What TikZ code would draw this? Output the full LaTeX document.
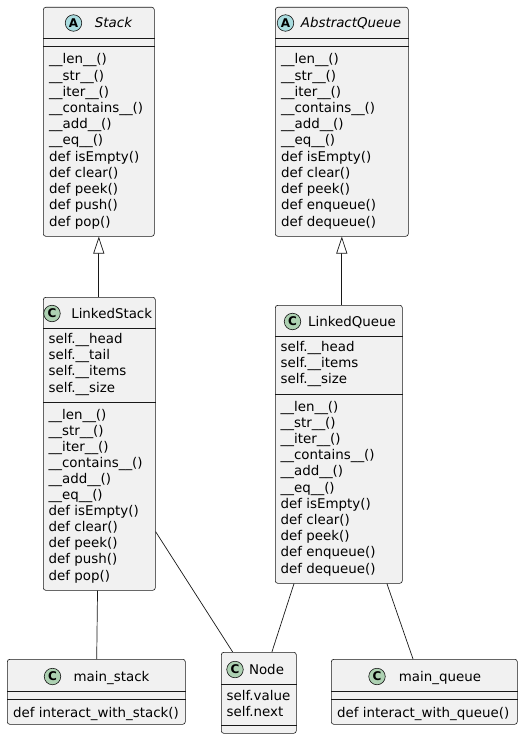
\documentclass[tikz,border=0pt]{standalone}
\usepackage{fontspec}
\setmainfont{DejaVu Sans}
\usetikzlibrary{arrows.meta}

\definecolor{boxfill}{HTML}{F1F1F1}
\definecolor{boxline}{HTML}{181818}
\definecolor{abscol}{HTML}{A9DCDF}
\definecolor{clscol}{HTML}{ADD1B2}
\newcommand\umlsize{\fontsize{13.4}{16.2}\selectfont}

\tikzset{
  umlbox/.style={draw=boxline,fill=boxfill,rounded corners=2.5pt,line width=0.6pt,anchor=north west,inner sep=0pt},
  rowline/.style={draw=boxline,line width=0.6pt},
  member/.style={anchor=base west,inner sep=0pt,font=\umlsize},
  classname/.style={anchor=base,inner sep=0pt,font=\umlsize},
  absname/.style={classname,font=\umlsize\itshape},
  absmark/.style={circle,draw=boxline,fill=abscol,minimum size=16.5pt,inner sep=0pt,line width=0.6pt,font=\fontsize{12}{12}\bfseries\selectfont},
  clsmark/.style={absmark,fill=clscol},
  extends/.style={draw=boxline,line width=0.7pt,-{Triangle[length=17pt,width=11pt,fill=white]}},
  link/.style={draw=boxline,line width=0.7pt}
}

\begin{document}
\begin{tikzpicture}[x=1pt,y=-1pt]
\useasboundingbox (0,0) rectangle (523,738);

% abstract classes
\node[umlbox,minimum width=111,minimum height=229] (stack) at (43,7) {};
\node[absmark] (stackmark) at (73.5,23) {A};
\node[absname] (stacktitle) at (113.5,27.5) {Stack};
\draw[rowline] (stack.west |- 0,38.5) -- (stack.east |- 0,38.5);
\draw[rowline] (stack.west |- 0,46.7) -- (stack.east |- 0,46.7);
\foreach \m [count=\i] in {\_\_len\_\_(), \_\_str\_\_(), \_\_iter\_\_(), \_\_contains\_\_(), \_\_add\_\_(), \_\_eq\_\_(), def isEmpty(), def clear(), def peek(), def push(), def pop()}
  \node[member] (stackop\i) at (49,{64+16.2*(\i-1)}) {\m};

\node[umlbox,minimum width=133,minimum height=229] (aqueue) at (275,7) {};
\node[absmark] (aqueuemark) at (285.5,23) {A};
\node[absname] (aqueuetitle) at (351,27.5) {AbstractQueue};
\draw[rowline] (aqueue.west |- 0,38.5) -- (aqueue.east |- 0,38.5);
\draw[rowline] (aqueue.west |- 0,46.7) -- (aqueue.east |- 0,46.7);
\foreach \m [count=\i] in {\_\_len\_\_(), \_\_str\_\_(), \_\_iter\_\_(), \_\_contains\_\_(), \_\_add\_\_(), \_\_eq\_\_(), def isEmpty(), def clear(), def peek(), def enqueue(), def dequeue()}
  \node[member] (aqueueop\i) at (281,{64+16.2*(\i-1)}) {\m};

% linked classes
\node[umlbox,minimum width=112,minimum height=293] (lstack) at (43,297) {};
\node[clsmark] (lstackmark) at (52,313.5) {C};
\node[classname] (lstacktitle) at (111.7,318) {LinkedStack};
\draw[rowline] (lstack.west |- 0,328) -- (lstack.east |- 0,328);
\foreach \a [count=\i] in {self.\_\_head, self.\_\_tail, self.\_\_items, self.\_\_size}
  \node[member] (lstackat\i) at (48.5,{343.5+16.2*(\i-1)}) {\a};
\draw[rowline] (lstack.west |- 0,402) -- (lstack.east |- 0,402);
\foreach \m [count=\i] in {\_\_len\_\_(), \_\_str\_\_(), \_\_iter\_\_(), \_\_contains\_\_(), \_\_add\_\_(), \_\_eq\_\_(), def isEmpty(), def clear(), def peek(), def push(), def pop()}
  \node[member] (lstackop\i) at (48.5,{419+16.1*(\i-1)}) {\m};

\node[umlbox,minimum width=127,minimum height=278] (lqueue) at (275,305) {};
\node[clsmark] (lqueuemark) at (292.5,321.5) {C};
\node[classname] (lqueuetitle) at (352,326) {LinkedQueue};
\draw[rowline] (lqueue.west |- 0,336) -- (lqueue.east |- 0,336);
\foreach \a [count=\i] in {self.\_\_head, self.\_\_items, self.\_\_size}
  \node[member] (lqueueat\i) at (280.5,{351.5+16.2*(\i-1)}) {\a};
\draw[rowline] (lqueue.west |- 0,394) -- (lqueue.east |- 0,394);
\foreach \m [count=\i] in {\_\_len\_\_(), \_\_str\_\_(), \_\_iter\_\_(), \_\_contains\_\_(), \_\_add\_\_(), \_\_eq\_\_(), def isEmpty(), def clear(), def peek(), def enqueue(), def dequeue()}
  \node[member] (lqueueop\i) at (280.5,{411+16.2*(\i-1)}) {\m};

% bottom row
\node[umlbox,minimum width=178,minimum height=65] (mainstack) at (7,659) {};
\node[clsmark] (mainstackmark) at (52.5,676.5) {C};
\node[classname] (mainstacktitle) at (111.5,681) {main\_stack};
\draw[rowline] (mainstack.west |- 0,691) -- (mainstack.east |- 0,691);
\draw[rowline] (mainstack.west |- 0,699) -- (mainstack.east |- 0,699);
\node[member] (mainstackop) at (13,717) {def interact\_with\_stack()};

\node[umlbox,minimum width=75,minimum height=81] (node) at (221,652) {};
\node[clsmark] (nodemark) at (235,669.5) {C};
\node[classname] (nodetitle) at (266.5,674) {Node};
\draw[rowline] (node.west |- 0,684.5) -- (node.east |- 0,684.5);
\node[member] (nodeat1) at (226.5,700) {self.value};
\node[member] (nodeat2) at (226.5,716) {self.next};
\draw[rowline] (node.west |- 0,725) -- (node.east |- 0,725);

\node[umlbox,minimum width=186,minimum height=65] (mainqueue) at (331,659) {};
\node[clsmark] (mainqueuemark) at (377,676.5) {C};
\node[classname] (mainqueuetitle) at (440,681) {main\_queue};
\draw[rowline] (mainqueue.west |- 0,691) -- (mainqueue.east |- 0,691);
\draw[rowline] (mainqueue.west |- 0,699) -- (mainqueue.east |- 0,699);
\node[member] (mainqueueop) at (337,717) {def interact\_with\_queue()};

% connectors
\draw[extends] (stack.south |- lstack.north) -- (stack.south);
\draw[extends] (aqueue.south |- lqueue.north) -- (aqueue.south);
\draw[link] (lstack) -- (mainstack);
\draw[link] (lstack) -- (node);
\draw[link] (lqueue) -- (node);
\draw[link] (lqueue) -- (mainqueue);
\end{tikzpicture}
\end{document}
